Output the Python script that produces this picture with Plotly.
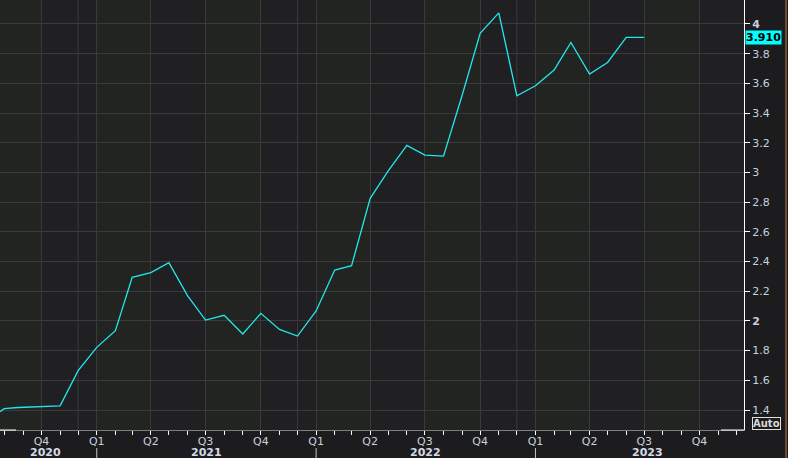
import plotly.graph_objects as go
import pandas as pd

# ---- data ----
dates = ["2020-07-24", "2020-07-31", "2020-08-23", "2020-10-09", "2020-11-01", "2020-12-01",
         "2021-01-01", "2021-02-01", "2021-03-01", "2021-04-01", "2021-05-01", "2021-06-01",
         "2021-07-01", "2021-08-01", "2021-09-01", "2021-10-01", "2021-11-01", "2021-12-01",
         "2022-01-01", "2022-02-01", "2022-03-01", "2022-04-01", "2022-05-01", "2022-06-01",
         "2022-07-01", "2022-08-01", "2022-09-01", "2022-10-01", "2022-11-01", "2022-12-01",
         "2023-01-01", "2023-02-01", "2023-03-01", "2023-04-01", "2023-05-01", "2023-06-01",
         "2023-07-01"]
values = [1.389, 1.409, 1.417, 1.423, 1.428, 1.665,
          1.822, 1.934, 2.294, 2.325, 2.392, 2.170,
          2.006, 2.038, 1.912, 2.051, 1.943, 1.898,
          2.067, 2.343, 2.372, 2.826, 3.011, 3.182,
          3.117, 3.110, 3.520, 3.937, 4.075, 3.517,
          3.584, 3.690, 3.876, 3.663, 3.741, 3.910,
          3.910]
last_label = "3.910"

quarter_ticks = ["2020-10-01", "2021-01-01", "2021-04-01", "2021-07-01", "2021-10-01",
                 "2022-01-01", "2022-04-01", "2022-07-01", "2022-10-01",
                 "2023-01-01", "2023-04-01", "2023-07-01", "2023-10-01"]
quarter_labels = ["Q4", "Q1", "Q2", "Q3", "Q4", "Q1", "Q2", "Q3", "Q4", "Q1", "Q2", "Q3", "Q4"]
year_labels = ["2020", "2021", "2022", "2023"]
year_label_pos = ["2020-10-08", "2021-07-02", "2022-07-02", "2023-07-06"]
year_starts = ["2021-01-01", "2022-01-01", "2023-01-01"]
extra_grid = ["2020-12-01", "2021-12-01", "2022-12-01"]
y_ticks = [1.4, 1.6, 1.8, 2.0, 2.2, 2.4, 2.6, 2.8, 3.0, 3.2, 3.4, 3.6, 3.8, 4.0]
y_ticktext = ["1.4", "1.6", "1.8", "<b>2</b>", "2.2", "2.4", "2.6", "2.8", "3", "3.2", "3.4",
              "3.6", "3.8", "<b>4</b>"]

x_range = ["2020-07-24", "2023-12-14"]
y_range = [1.2653, 4.1616]

# ---- style ----
FONT = "DejaVu Sans"
TXT = "#c9d0db"
GRID = "#3a3a3a"
GREEN_BAND = "#222421"
PURPLE_BAND = "#201f22"
LINE = "#22e8ee"

fig = go.Figure()
fig.add_trace(go.Scatter(x=dates, y=values, mode="lines",
                         line=dict(color=LINE, width=1.3), hoverinfo="skip"))

shapes = []
# alternating quarter bands
qs = pd.date_range("2020-07-01", "2024-01-01", freq="QS")
for a, b in zip(qs[:-1], qs[1:]):
    col = GREEN_BAND if a.month in (1, 7) else PURPLE_BAND
    shapes.append(dict(type="rect", xref="x", yref="paper", x0=a, x1=b, y0=0, y1=1,
                       fillcolor=col, line=dict(width=0), layer="below"))
for d in extra_grid:
    shapes.append(dict(type="line", xref="x", yref="paper", x0=d, x1=d, y0=0, y1=1,
                       line=dict(color=GRID, width=1), layer="below"))
# year separators below axis
for d in year_starts:
    shapes.append(dict(type="line", xref="x", yref="paper", x0=d, x1=d,
                       y0=-18 / 430, y1=-28 / 430, line=dict(color="#c4c4c4", width=1)))
# white axis segments
shapes.append(dict(type="line", xref="paper", yref="paper", x0=0, x1=16 / 744, y0=0, y1=0,
                   line=dict(color="#ffffff", width=1)))
shapes.append(dict(type="line", xref="paper", yref="paper", x0=721 / 744, x1=1, y0=0, y1=0,
                   line=dict(color="#ffffff", width=1)))
# orange right edge
shapes.append(dict(type="line", xref="paper", yref="paper", x0=786 / 744, x1=786 / 744,
                   y0=-28 / 430, y1=1, line=dict(color="#c07c38", width=1)))

annotations = []
for t, p in zip(year_labels, year_label_pos):
    annotations.append(dict(x=p, y=-22.5 / 430, xref="x", yref="paper", text="<b>" + t + "</b>",
                            showarrow=False, xanchor="center", yanchor="middle",
                            font=dict(family=FONT, size=11, color="#d5dae2")))
annotations.append(dict(x=1, y=values[-1], xref="paper", yref="y", text="<b>" + last_label + "</b>",
                        showarrow=False, xanchor="left", yanchor="middle", bgcolor="#00ffff",
                        borderpad=0, xshift=1,
                        font=dict(family=FONT, size=11, color="#000000")))
annotations.append(dict(x=751.7 / 744, y=6.5 / 430, xref="paper", yref="paper", text="<b>Auto</b>",
                        showarrow=False, xanchor="left", yanchor="middle", bordercolor="#e0e0e0",
                        borderwidth=1, borderpad=0,
                        font=dict(family=FONT, size=10, color="#d8d8d8")))

fig.update_layout(
    width=788, height=458, autosize=False,
    margin=dict(l=0, r=44, t=0, b=28),
    paper_bgcolor="#1c1c1e", plot_bgcolor=PURPLE_BAND,
    showlegend=False,
    shapes=shapes, annotations=annotations,
    font=dict(family=FONT, size=11, color=TXT),
    xaxis=dict(type="date", range=x_range, tickvals=quarter_ticks, ticktext=quarter_labels,
               showgrid=True, gridcolor=GRID, gridwidth=1, zeroline=False,
               ticks="outside", ticklen=4, tickcolor="#ffffff", tickwidth=1,
               ticklabelstandoff=-3,
               showline=True, linecolor="#808080", linewidth=1,
               tickfont=dict(family=FONT, size=11, color=TXT),
               minor=dict(ticks="outside", ticklen=4, tickcolor="#ffffff", dtick="M1",
                          tick0="2020-01-01", showgrid=False),
               fixedrange=True),
    yaxis=dict(side="right", range=y_range, tickvals=y_ticks, ticktext=y_ticktext,
               showgrid=True, gridcolor=GRID, gridwidth=1, zeroline=False,
               ticks="outside", ticklen=5, tickcolor="#ffffff", tickwidth=1,
               showline=True, linecolor="#ffffff", linewidth=1,
               tickfont=dict(family=FONT, size=11, color=TXT),
               fixedrange=True),
)

fig.write_html("out.html", config={"displayModeBar": False},
               post_script="document.body.style.margin='0';document.body.style.overflow='hidden';"
                           "document.body.style.background='#1c1c1e';")
